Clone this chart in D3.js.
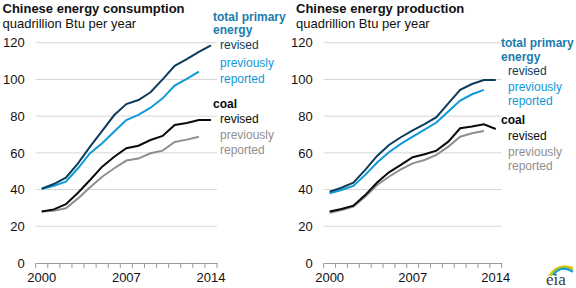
<!DOCTYPE html>
<html><head><meta charset="utf-8">
<script src="https://cdn.jsdelivr.net/npm/d3@7"></script>
<style>
body{margin:0;background:#fff;}
svg{display:block;font-family:"Liberation Sans",Arial,sans-serif;}
</style></head>
<body><svg id="c" width="576" height="288"></svg>
<script>
const years = d3.range(2000, 2015);
const yTicks = [0, 20, 40, 60, 80, 100, 120];
const xLabels = [2000, 2007, 2014];

const consTotalRevised = [40.5,43,46.5,54.3,63.4,72,80.6,86.6,88.8,93,100,107.4,111,115,118.5];
const consTotalPrev    = [40.3,42,44.3,51.6,59.8,65.2,71.6,77.9,80.7,84.6,89.7,96.6,100.3,104.3];
const consCoalRevised  = [28,29.2,32,38.3,45.2,52.5,57.9,62.5,63.9,67,69.2,75.2,76.3,77.9,77.9];
const consCoalPrev     = [28,28.5,29.8,35.2,41.2,47,51.6,55.8,56.9,59.8,61.2,65.9,67.2,68.8];

const prodTotalRevised = [38.9,41,43.8,50.7,58.3,64.3,68.5,72.3,75.6,79.4,87,94.3,97.5,99.7,99.7];
const prodTotalPrev    = [38,39.8,42,48,54.7,60.3,64.9,68.8,72.6,76.5,82.5,88.5,91.9,94.3];
const prodCoalRevised  = [28,29.4,31.2,37,43.8,49.4,53.4,57.6,59.2,61.2,66.1,73.4,74.3,75.6,73];
const prodCoalPrev     = [27.4,28.9,30.7,36.1,42.5,47,51,54.3,56.1,58.9,63.4,68.8,70.7,71.9];

const C = {navy:"#0b3c5a", blue:"#0d9ad6", black:"#0a0a0a", grey:"#8f8f8f", head:"#1a7cad"};
const svg = d3.select("#c");

function panel(opt){
  const g = svg.append("g");
  const x = d3.scaleBand().domain(years).range([opt.left, opt.right]).padding(0);
  const y = d3.scaleLinear().domain([0,120]).range([263, 42.7]);
  // title
  g.append("text").attr("x", opt.tx).attr("y", 12.5).attr("font-size", 13).attr("font-weight","bold")
    .attr("fill","#111").text(opt.title);
  g.append("text").attr("x", opt.tx).attr("y", 27.5).attr("font-size", 13).attr("fill","#111")
    .text("quadrillion Btu per year");
  // grid
  g.selectAll(".grid").data(yTicks.filter(d=>d>0)).enter().append("line")
    .attr("x1", opt.left).attr("x2", opt.right).attr("y1", d=>y(d)).attr("y2", d=>y(d))
    .attr("stroke","#d6d6d6").attr("stroke-width",1);
  // y axis
  const ya = g.append("g").attr("transform",`translate(${opt.left},0)`)
    .call(d3.axisLeft(y).tickValues(yTicks).tickSize(0).tickPadding(11));
  ya.select(".domain").remove();
  ya.selectAll("text").attr("font-size",13).attr("fill","#111").attr("font-family","Liberation Sans, Arial, sans-serif");
  // x axis
  const xa = g.append("g").attr("transform","translate(0,263)")
    .call(d3.axisBottom(x).tickValues(xLabels).tickSize(0).tickPadding(10));
  xa.select(".domain").attr("stroke","#9a9a9a");
  xa.selectAll("text").attr("font-size",13).attr("fill","#111").attr("font-family","Liberation Sans, Arial, sans-serif");
  const edges = years.map(d=>x(d)).concat([x.range()[1]]);
  g.selectAll(".tk").data(edges).enter().append("line")
    .attr("x1",d=>d).attr("x2",d=>d).attr("y1",263).attr("y2",268)
    .attr("stroke","#9a9a9a").attr("stroke-width",1);
  // lines
  const line = d3.line().x((d,i)=>x(years[i])+x.bandwidth()/2).y(d=>y(d));
  [[opt.coalPrev,C.grey],[opt.coalRev,C.black],[opt.totPrev,C.blue],[opt.totRev,C.navy]].forEach(([arr,col])=>{
    g.append("path").datum(arr).attr("d",line).attr("fill","none").attr("stroke",col).attr("stroke-width",2);
  });
  // legend
  const L = opt.leg;
  const t = (xx,yy,txt,col,bold)=>g.append("text").attr("x",xx).attr("y",yy).attr("font-size",12)
    .attr("font-weight",bold?"bold":"normal").attr("fill",col).text(txt);
  t(L.x, L.y[0], "total primary", C.head, true);
  t(L.x, L.y[1], "energy", C.head, true);
  t(L.x+7, L.y[2], "revised", C.navy);
  t(L.x+7, L.y[3], "previously", C.blue);
  t(L.x+7, L.y[4], "reported", C.blue);
  t(L.x, L.y[5], "coal", C.black, true);
  t(L.x+7, L.y[6], "revised", C.black);
  t(L.x+7, L.y[7], "previously", C.grey);
  t(L.x+7, L.y[8], "reported", C.grey);
}

panel({left:35.7, right:217, tx:2.5, title:"Chinese energy consumption",
  totRev:consTotalRevised, totPrev:consTotalPrev, coalRev:consCoalRevised, coalPrev:consCoalPrev,
  leg:{x:213, y:[21,33.5,49,66.5,82.5,107.5,122.5,139,154]}});
panel({left:323.7, right:501.7, tx:296, title:"Chinese energy production",
  totRev:prodTotalRevised, totPrev:prodTotalPrev, coalRev:prodCoalRevised, coalPrev:prodCoalPrev,
  leg:{x:501, y:[47,61,75,91,105,124,139.5,156,170]}});

// eia logo
const lg = svg.append("g");
const arcs = [["#f5c400",0],["#8cc63f",2.2],["#1a9ad6",4.4]];
arcs.forEach(([col,o])=>{
  lg.append("path").attr("d",`M${549+o},${276-o*0.2} Q${558+o*0.6},${262+o*0.5} ${573},${268+o*0.9}`)
    .attr("fill","none").attr("stroke",col).attr("stroke-width",2);
});
lg.append("text").attr("x",546).attr("y",285).attr("font-size",17)
  .attr("font-family","Liberation Serif, DejaVu Serif, serif").attr("fill","#3a3a3a").text("eia");
</script></body></html>
